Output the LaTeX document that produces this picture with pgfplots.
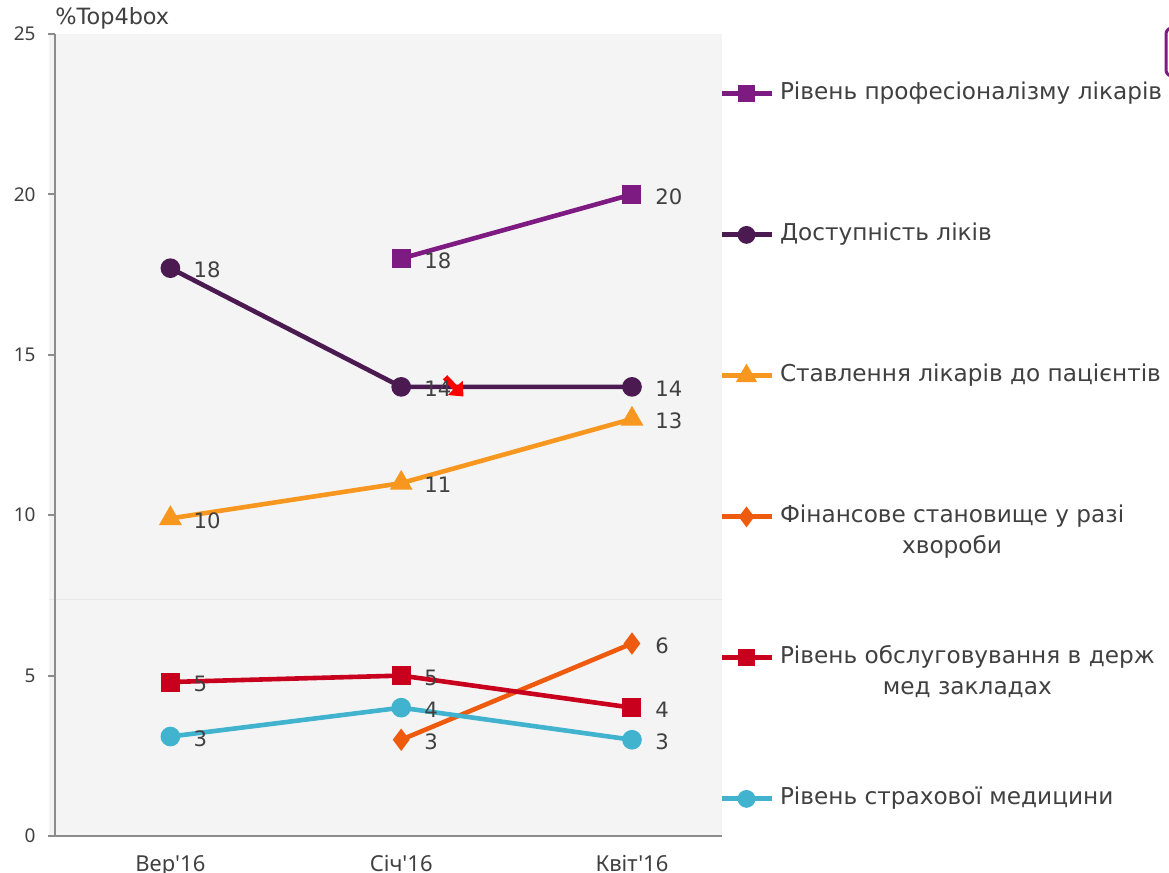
\documentclass[border=0pt]{standalone}
\usepackage{fontspec}
\setmainfont{DejaVu Sans}
\newfontfamily\tickfont{Noto Sans}
\usepackage{pgfplots}
\pgfplotsset{compat=1.18}
\usetikzlibrary{arrows.meta}
\definecolor{cPro}{HTML}{7D1B82}
\definecolor{cDost}{HTML}{4B1A50}
\definecolor{cStav}{HTML}{F8971F}
\definecolor{cFin}{HTML}{EE5A0E}
\definecolor{cObs}{HTML}{C8001E}
\definecolor{cStr}{HTML}{41B3CF}
\definecolor{txt}{HTML}{404040}
\definecolor{bg}{HTML}{F4F4F4}
\begin{document}
\begin{tikzpicture}
\useasboundingbox (0,0) rectangle (584.5pt,436.5pt);
\fill[bg] (24.5pt,18.5pt) rectangle (361pt,419.5pt);
\draw[black!9, line width=0.5pt] (24.5pt,136.5pt) -- (361pt,136.5pt);
\draw[cPro, line width=1.5pt, rounded corners=3pt, fill=white] (583pt,398.5pt) rectangle (600pt,422.5pt);
\begin{axis}[
  at={(27.5pt,18.5pt)}, anchor=south west,
  scale only axis, width=333.5pt, height=401pt,
  xmin=-0.5, xmax=2.39, ymin=0, ymax=25,
  clip=false,
  axis x line*=bottom, axis y line*=left,
  axis line style={draw=black!45, line width=1pt},
  xtick={0,1,2}, xticklabels={Вер'16,Січ'16,Квіт'16},
  ytick={0,5,10,15,20,25},
  tick align=outside, major tick length=3.5pt,
  xtick style={draw=none},
  ytick style={draw=black!45, line width=1pt},
  /pgf/number format/assume math mode=true,
  xticklabel style={font=\tickfont\fontsize{11}{13}\selectfont, text=txt, inner sep=0pt, anchor=north, yshift=-6pt},
  yticklabel style={font=\tickfont\fontsize{9.5}{11}\selectfont, text=txt, inner sep=0pt, anchor=east, xshift=-6pt},
  nodes near coords, point meta=explicit symbolic,
  every node near coord/.append style={anchor=west, inner sep=0pt, xshift=10.5pt, yshift=-1pt, font=\fontsize{10.6}{12}\selectfont, text=txt},
  every axis plot/.append style={line width=2.3pt, mark options={solid}},
  legend style={at={(0.9955,0.9405)}, anchor=north west, draw=none, fill=none, inner sep=0pt, outer sep=0pt,
    row sep={70.5pt,between origins}, column sep=3pt,
    nodes={inner sep=0pt, text=txt, font=\fontsize{11.6}{15.5}\selectfont},
    cells={anchor=mid west}},
  legend image code/.code={\draw[mark repeat=2,mark phase=2,#1,line width=2.5pt,every mark/.append style={scale=0.85}] plot coordinates {(0pt,0pt) (12.5pt,0pt) (25pt,0pt)};},
]
\addplot[color=cPro, mark=square*, mark size=3.6pt] coordinates {(1,18)[18] (2,20)[20]};
\addlegendentry{Рівень професіоналізму лікарів}
\addplot[color=cDost, mark=*, mark size=3.75pt] coordinates {(0,17.7)[18] (1,14)[14] (2,14)[14]};
\addlegendentry{Доступність ліків}
\addplot[color=cStav, mark=triangle*, mark size=4.3pt] coordinates {(0,9.9)[10] (1,11)[11] (2,13)[13]};
\addlegendentry{Ставлення лікарів до пацієнтів}
\addplot[color=cFin, mark=diamond*, mark size=3.7pt] coordinates {(1,3)[3] (2,6)[6]};
\addlegendentry{\begin{tabular}[t]{@{}c@{}}Фінансове становище у разі\\хвороби\end{tabular}}
\addplot[color=cObs, mark=square*, mark size=3.6pt] coordinates {(0,4.8)[5] (1,5)[5] (2,4)[4]};
\addlegendentry{\begin{tabular}[t]{@{}c@{}}Рівень обслуговування в держ\\мед закладах\end{tabular}}
\addplot[color=cStr, mark=*, mark size=3.75pt] coordinates {(0,3.1)[3] (1,4)[4] (2,3)[3]};
\addlegendentry{Рівень страхової медицини}
\draw[red, line width=3pt, -{Triangle[length=6pt,width=10pt]}] (axis cs:1.19,14.3) -- (axis cs:1.27,13.7);
\node[anchor=base west, inner sep=0pt, text=txt, font=\fontsize{11.2}{13}\selectfont] at (rel axis cs:0,1) [yshift=4.5pt] {\%Top4box};
\end{axis}
\end{tikzpicture}
\end{document}
